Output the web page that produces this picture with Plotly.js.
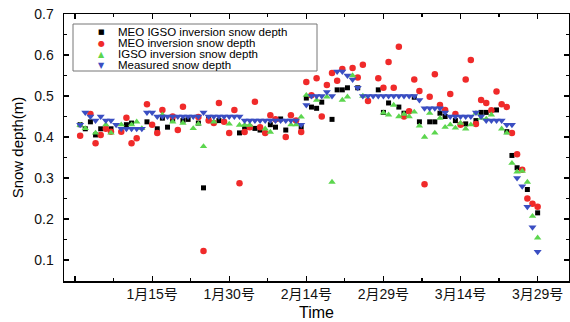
<!DOCTYPE html>
<html>
<head>
<meta charset="utf-8">
<script src="https://cdn.plot.ly/plotly-3.0.1.min.js"></script>
<style>html,body{margin:0;padding:0;background:#fff;}#chart{width:570px;height:322px;}</style>
</head>
<body>
<div id="chart"></div>
<script>
// Day index (1 = Jan 1) and snow depth values (m)
const tickDays = [0, 15, 30, 45, 60, 75, 90];
const tickLabels = ['', '1月15号', '1月30号', '2月14号', '2月29号', '3月14号', '3月29号'];

const seriesNames = ['MEO IGSO inversion snow depth', 'MEO inversion snow depth', 'IGSO inversion snow depth', 'Measured snow depth'];

const blackDays = [1,2,3,4,5,7,10,11,14,16,17,18,19,21,22,24,25,26,28,32,33,34,35,36,38,39,40,41,44,45,46,47,48,50,51,52,53,55,59,60,61,63,64,66,67,69,70,71,72,74,76,78,79,80,82,84,85,86,88,90];
const blackVals = [0.43,0.42,0.437,0.405,0.42,0.42,0.43,0.434,0.437,0.42,0.446,0.424,0.443,0.44,0.443,0.434,0.276,0.446,0.44,0.41,0.424,0.424,0.421,0.417,0.43,0.424,0.444,0.417,0.424,0.495,0.473,0.47,0.485,0.443,0.515,0.515,0.52,0.52,0.515,0.46,0.483,0.473,0.458,0.497,0.437,0.437,0.437,0.458,0.45,0.44,0.432,0.44,0.46,0.46,0.466,0.413,0.355,0.325,0.272,0.215];

const redDays = [1,3,4,5,6,7,9,10,11,12,14,15,16,17,19,20,21,24,25,26,27,28,29,30,31,32,33,34,35,36,37,38,39,41,42,43,44,45,46,47,48,49,50,51,52,54,55,56,57,59,60,61,62,63,64,65,66,67,68,69,70,71,72,73,74,75,76,77,78,79,80,81,82,83,84,85,86,87,88,89,90];
const redVals = [0.403,0.456,0.385,0.405,0.42,0.413,0.413,0.447,0.385,0.397,0.48,0.43,0.41,0.466,0.45,0.417,0.474,0.449,0.122,0.44,0.434,0.483,0.437,0.41,0.466,0.287,0.412,0.424,0.486,0.424,0.41,0.453,0.443,0.40,0.453,0.44,0.412,0.534,0.502,0.543,0.45,0.527,0.556,0.537,0.566,0.568,0.545,0.576,0.488,0.543,0.52,0.583,0.52,0.62,0.45,0.463,0.54,0.512,0.285,0.498,0.553,0.478,0.466,0.505,0.456,0.43,0.54,0.588,0.432,0.49,0.483,0.465,0.511,0.48,0.473,0.41,0.358,0.32,0.25,0.237,0.23];

const greenDays = [1,2,4,6,7,9,11,12,13,17,19,21,23,24,25,27,30,32,33,34,37,38,42,43,44,45,47,49,50,52,53,54,56,60,61,62,63,64,65,66,67,68,69,70,71,72,73,74,75,76,77,78,79,80,81,83,84,85,86,87,88,89,90];
const greenVals = [0.429,0.421,0.41,0.43,0.41,0.43,0.43,0.437,0.421,0.454,0.437,0.434,0.421,0.432,0.377,0.437,0.432,0.429,0.429,0.429,0.42,0.412,0.43,0.43,0.449,0.502,0.49,0.498,0.29,0.49,0.498,0.55,0.5,0.459,0.454,0.478,0.45,0.456,0.45,0.461,0.427,0.40,0.458,0.41,0.446,0.424,0.43,0.422,0.434,0.42,0.43,0.458,0.446,0.444,0.454,0.42,0.41,0.336,0.315,0.317,0.29,0.207,0.154];

const blueDays = [1,2,3,4,5,6,7,8,9,10,11,12,13,14,15,16,17,18,19,20,21,22,23,24,25,26,27,28,29,30,31,32,33,34,35,36,37,38,39,40,41,42,43,44,45,46,47,48,49,50,51,52,53,54,55,56,57,58,59,60,61,62,63,64,65,66,67,68,69,70,71,72,73,74,75,76,77,78,79,80,81,82,83,84,85,86,87,88,89,90];
const blueVals = [0.43,0.46,0.45,0.44,0.45,0.44,0.44,0.43,0.42,0.42,0.42,0.42,0.42,0.46,0.46,0.45,0.45,0.45,0.45,0.45,0.45,0.45,0.45,0.45,0.46,0.45,0.45,0.45,0.45,0.45,0.45,0.45,0.44,0.44,0.44,0.44,0.44,0.44,0.44,0.44,0.44,0.44,0.44,0.43,0.478,0.50,0.50,0.50,0.51,0.50,0.56,0.56,0.55,0.54,0.52,0.50,0.50,0.50,0.50,0.50,0.50,0.50,0.50,0.50,0.50,0.50,0.49,0.47,0.47,0.47,0.47,0.46,0.45,0.45,0.45,0.45,0.45,0.46,0.45,0.44,0.44,0.44,0.44,0.43,0.43,0.30,0.28,0.23,0.18,0.12];

const colors = ['#000000', '#f02a2a', '#5cd64e', '#3a4ec2'];
const symbols = ['square', 'circle', 'triangle-up', 'triangle-down'];
const sizes = [5, 6.5, 6.5, 7];
const glyphs = ['■', '●', '▲', '▼'];
const glyphSizes = [7, 8, 8, 8];

const xs = [blackDays, redDays, greenDays, blueDays];
const ys = [blackVals, redVals, greenVals, blueVals];

const traces = xs.map((x, i) => ({
  type: 'scatter', mode: 'markers', x: x, y: ys[i], name: seriesNames[i],
  marker: {color: colors[i], symbol: symbols[i], size: sizes[i], line: {width: 0}},
  showlegend: false
}));

const font = 'Liberation Sans, Arial, Noto Sans CJK SC, sans-serif';
const L = 64, R = 569, T = 14, B = 281;
const px = v => (v - L) / (R - L);
const py = v => (B - v) / (B - T);

const annotations = [];
const rowY = [32, 43, 54, 65];
seriesNames.forEach((n, i) => {
  annotations.push({xref: 'paper', yref: 'paper', x: px(101), y: py(rowY[i]), text: glyphs[i], showarrow: false,
    xanchor: 'center', yanchor: 'middle', borderpad: 0, font: {family: 'DejaVu Sans', size: glyphSizes[i], color: colors[i]}});
  annotations.push({xref: 'paper', yref: 'paper', x: px(117), y: py(rowY[i]), text: n, showarrow: false,
    xanchor: 'left', yanchor: 'middle', borderpad: 0, font: {family: font, size: 11.5, color: '#000'}});
});

const layout = {
  width: 570, height: 322,
  margin: {l: L, r: 570 - R, t: T, b: 322 - B},
  paper_bgcolor: '#fff', plot_bgcolor: '#fff',
  font: {family: font, color: '#000'},
  xaxis: {
    range: [-2.14, 96.1], showgrid: false, zeroline: false,
    showline: true, linecolor: '#000', linewidth: 1.5, mirror: 'ticks',
    ticks: 'inside', ticklen: 5, tickwidth: 1.2, tickcolor: '#000',
    tickmode: 'array', tickvals: tickDays, ticktext: tickLabels,
    tickfont: {size: 14, color: '#111'},
    minor: {ticks: 'inside', ticklen: 3, tickwidth: 1.2, tickcolor: '#000', tickmode: 'linear', tick0: 0, dtick: 7.5, showgrid: false},
    title: {text: 'Time', font: {size: 16, color: '#000'}, standoff: 5}
  },
  yaxis: {
    range: [0.0488, 0.7], showgrid: false, zeroline: false,
    showline: true, linecolor: '#000', linewidth: 1.5, mirror: 'ticks',
    ticks: 'inside', ticklen: 5, tickwidth: 1.2, tickcolor: '#000',
    tick0: 0, dtick: 0.1, tickformat: '.1f',
    tickfont: {size: 14, color: '#111'}, ticklabelstandoff: 6,
    minor: {ticks: 'inside', ticklen: 3, tickwidth: 1.2, tickcolor: '#000', tick0: 0, dtick: 0.05, showgrid: false},
    title: {text: 'Snow depth(m)', font: {size: 15, color: '#000'}, standoff: 7}
  },
  shapes: [{type: 'rect', xref: 'paper', yref: 'paper', x0: px(73), x1: px(317), y0: py(71), y1: py(24),
    line: {color: '#777', width: 1}, fillcolor: 'rgba(255,255,255,1)', layer: 'above'}],
  annotations: annotations,
  showlegend: false
};

Plotly.newPlot('chart', traces, layout, {displayModeBar: false, staticPlot: true});
</script>
</body>
</html>
